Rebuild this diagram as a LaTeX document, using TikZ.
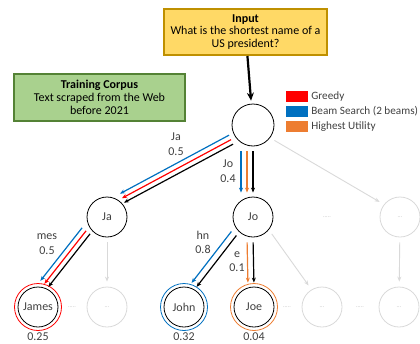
\documentclass[tikz,border=0pt]{standalone}
\usepackage{fontspec}
\setmainfont{Carlito}
\usetikzlibrary{arrows.meta,positioning}

\definecolor{greedyred}{HTML}{FF0000}
\definecolor{beamblue}{HTML}{0070C0}
\definecolor{utilorange}{HTML}{ED7D31}
\definecolor{ghostgray}{HTML}{D9D9D9}
\definecolor{dotgray}{HTML}{BFBFBF}
\definecolor{inkgray}{HTML}{404040}
\definecolor{inputfill}{HTML}{FFD966}
\definecolor{inputdraw}{HTML}{BF9000}
\definecolor{corpusfill}{HTML}{A9D18E}
\definecolor{corpusdraw}{HTML}{548235}

\begin{document}
\begin{tikzpicture}[
		x=1pt, y=-1pt,
		font=\fontsize{12}{12.5}\selectfont,
		>={Stealth[length=5pt,width=4pt]},
		% Styles
		tok/.style={circle, draw=black, line width=0.8pt, minimum size=40pt, inner sep=0pt, text=inkgray},
		ghost/.style={tok, draw=ghostgray, text=dotgray, font=\fontsize{6}{7}\selectfont},
		gap/.style={text=dotgray, font=\fontsize{6}{7}\selectfont},
		walk/.style={->, line width=1.2pt, shorten <=5pt, shorten >=4pt},
		greedy/.style={walk, draw=greedyred},
		beam/.style={walk, draw=beamblue},
		utility/.style={walk, draw=utilorange},
		chosen/.style={walk, draw=black},
		faded/.style={->, line width=0.9pt, draw=ghostgray, shorten <=5pt, shorten >=5pt},
		lbl/.style={align=center, text=inkgray, font=\fontsize{12}{14.5}\selectfont},
		infobox/.style={line width=2pt, align=center, inner sep=0pt},
		swatch/.style={minimum width=22pt, minimum height=11pt, inner sep=0pt},
		legtext/.style={inner sep=0pt, text=inkgray, font=\fontsize{11.2}{12}\selectfont}
	]
	\useasboundingbox (0,0) rectangle (420,343);

	% --- prompt and corpus ---
	\node[infobox, draw=inputdraw, fill=inputfill, minimum width=163pt, minimum height=46pt] (input) at (245.5,32)
		{\textbf{Input}\\What is the shortest name of a\\US president?};
	\node[infobox, draw=corpusdraw, fill=corpusfill, line width=2.5pt, minimum width=171pt, minimum height=47pt, font=\fontsize{12}{13}\selectfont] (corpus) at (99.5,97.5)
		{\textbf{Training Corpus}\\Text scraped from the Web\\before 2021};

	% --- legend ---
	\node[swatch, fill=greedyred] (legGreedy) at (297,96.5) {};
	\node[swatch, fill=beamblue] (legBeam) at (297,111.5) {};
	\node[swatch, fill=utilorange] (legUtil) at (297,126.5) {};
	\node[legtext, right=3pt of legGreedy] (txtGreedy) {Greedy};
	\node[legtext, right=3pt of legBeam] (txtBeam) {Beam Search (2 beams)};
	\node[legtext, right=3pt of legUtil] (txtUtil) {Highest Utility};

	% --- tree ---
	\node[tok, minimum size=42pt] (root) at (253,125) {};
	\node[tok] (ja) at (107,217) {Ja};
	\node[tok] (jo) at (253,217) {Jo};
	\node[ghost] (gOne) at (400,217) {...};
	\node[tok] (james) at (38,307) {James};
	\node[ghost] (gJa) at (107,307) {...};
	\node[tok] (john) at (184,307) {John};
	\node[tok] (joe) at (254,307) {Joe};
	\node[ghost] (gJo) at (322,307) {...};
	\node[ghost] (gTwo) at (399,307) {...};

	% final rings
	\draw[greedyred, line width=0.8pt] (james) circle (23.5);
	\draw[beamblue, line width=0.8pt] (john) circle (23.5);
	\draw[utilorange, line width=0.8pt] (joe) circle (23.5);

	% dots between siblings
	\node[gap] (dOne) at (327,217) {.....};
	\node[gap] (dJa) at (72,307) {.....};
	\node[gap] (dJo) at (287,307) {.....};
	\node[gap] (dTwo) at (360,307) {.....};

	% scores
	\node[lbl] (pJames) at (38,336.5) {0.25};
	\node[lbl] (pJohn) at (184,336.5) {0.32};
	\node[lbl] (pJoe) at (254,336.5) {0.04};

	% --- connectors ---
	\draw[->, line width=2.2pt, >={Stealth[length=8pt,width=7pt]}, shorten >=3pt] (input) -- (root);

	% root -> Ja
	\draw[beam] ([shift={(-2,-4.5)}]root.215) -- ([shift={(-2,-4.5)}]ja.56);
	\draw[greedy] (root.215) -- (ja.56);
	\draw[chosen] ([shift={(2,4.5)}]root.215) -- ([shift={(2,4.5)}]ja.56);
	% root -> Jo
	\draw[beam] ([xshift=-12pt]root.south) -- ([xshift=-12pt]jo.north);
	\draw[utility] ([xshift=-6pt]root.south) -- ([xshift=-6pt]jo.north);
	\draw[chosen] (root.south) -- (jo.north);
	% Ja -> James
	\draw[beam] ([shift={(-4,-3)}]ja.209) -- ([shift={(-4,-3)}]james.79);
	\draw[greedy] (ja.209) -- (james.79);
	\draw[chosen] ([shift={(4,3)}]ja.209) -- ([shift={(4,3)}]james.79);
	% Jo -> John, Joe
	\draw[beam] ([shift={(-2.5,-2)}]jo.218) -- ([shift={(-2.5,-2)}]john.68);
	\draw[chosen] ([shift={(2.5,2)}]jo.218) -- ([shift={(2.5,2)}]john.68);
	\draw[utility] ([xshift=-6pt]jo.south) -- ([xshift=-6pt]joe.north);
	\draw[chosen] (jo.south) -- (joe.north);

	% pruned branches
	\draw[faded] (root.323) -- (gOne.142);
	\draw[faded] (ja) -- (gJa);
	\draw[faded] (jo.321) -- (gJo.121);
	\draw[faded] (gOne) -- (gTwo);

	% token labels
	\node[lbl] (lJa) at (176,144) {Ja\\0.5};
	\node[lbl] (lJo) at (228,171) {Jo\\0.4};
	\node[lbl] (lMes) at (47,244) {mes\\0.5};
	\node[lbl] (lHn) at (203,242.5) {hn\\0.8};
	\node[lbl] (lE) at (237,261.5) {e\\0.1};
\end{tikzpicture}
\end{document}
